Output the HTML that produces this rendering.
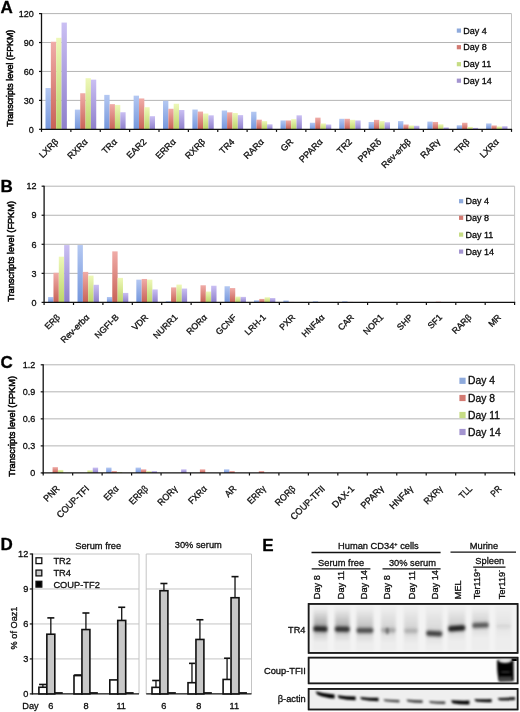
<!DOCTYPE html>
<html><head><meta charset="utf-8"><title>Figure</title>
<style>html,body{margin:0;padding:0;background:#fff;}svg text{font-family:"Liberation Sans",sans-serif;stroke:#000;stroke-width:0.3px;stroke-linejoin:round;}svg{will-change:transform;filter:blur(0.35px);}body{width:520px;height:712px;overflow:hidden;position:relative;}</style>
</head><body>
<svg width="520" height="712" viewBox="0 0 520 712" style="position:absolute;left:0;top:0">
<defs>
<linearGradient id="gb" x1="0" y1="0" x2="0" y2="1"><stop offset="0" stop-color="#b4c8f2"/><stop offset="1" stop-color="#7496dc"/></linearGradient>
<linearGradient id="gr" x1="0" y1="0" x2="0" y2="1"><stop offset="0" stop-color="#f0aca8"/><stop offset="1" stop-color="#c86256"/></linearGradient>
<linearGradient id="gy" x1="0" y1="0" x2="0" y2="1"><stop offset="0" stop-color="#eef8b8"/><stop offset="1" stop-color="#bcd46a"/></linearGradient>
<linearGradient id="gp" x1="0" y1="0" x2="0" y2="1"><stop offset="0" stop-color="#cabff3"/><stop offset="1" stop-color="#8e7fcb"/></linearGradient>
<filter id="bl1" x="-50%" y="-50%" width="200%" height="200%"><feGaussianBlur stdDeviation="1"/></filter>
<filter id="bl2" x="-50%" y="-50%" width="200%" height="200%"><feGaussianBlur stdDeviation="1.6"/></filter>
<filter id="bl3" x="-50%" y="-50%" width="200%" height="200%"><feGaussianBlur stdDeviation="2.5"/></filter>
</defs>
<rect width="520" height="712" fill="#fff"/>
<line x1="41.50" y1="100.38" x2="511.50" y2="100.38" stroke="#b4b4b4" stroke-width="1" />
<line x1="41.50" y1="71.45" x2="511.50" y2="71.45" stroke="#b4b4b4" stroke-width="1" />
<line x1="41.50" y1="42.53" x2="511.50" y2="42.53" stroke="#b4b4b4" stroke-width="1" />
<line x1="41.50" y1="13.60" x2="511.50" y2="13.60" stroke="#b4b4b4" stroke-width="1" />
<line x1="511.50" y1="13.60" x2="511.50" y2="129.30" stroke="#c4c4c4" stroke-width="1" />
<rect x="45.51" y="88.03" width="5.34" height="41.27" fill="url(#gb)" />
<rect x="50.85" y="41.75" width="5.34" height="87.55" fill="url(#gr)" />
<rect x="56.19" y="37.80" width="5.34" height="91.50" fill="url(#gy)" />
<rect x="61.53" y="22.57" width="5.34" height="106.73" fill="url(#gp)" />
<rect x="74.88" y="109.63" width="5.34" height="19.67" fill="url(#gb)" />
<rect x="80.22" y="93.24" width="5.34" height="36.06" fill="url(#gr)" />
<rect x="85.56" y="78.20" width="5.34" height="51.10" fill="url(#gy)" />
<rect x="90.90" y="79.65" width="5.34" height="49.65" fill="url(#gp)" />
<rect x="104.26" y="94.88" width="5.34" height="34.42" fill="url(#gb)" />
<rect x="109.60" y="104.14" width="5.34" height="25.16" fill="url(#gr)" />
<rect x="114.94" y="104.91" width="5.34" height="24.39" fill="url(#gy)" />
<rect x="120.28" y="112.23" width="5.34" height="17.07" fill="url(#gp)" />
<rect x="133.63" y="95.65" width="5.34" height="33.65" fill="url(#gb)" />
<rect x="138.97" y="98.45" width="5.34" height="30.85" fill="url(#gr)" />
<rect x="144.31" y="107.22" width="5.34" height="22.08" fill="url(#gy)" />
<rect x="149.65" y="116.19" width="5.34" height="13.11" fill="url(#gp)" />
<rect x="163.01" y="100.76" width="5.34" height="28.54" fill="url(#gb)" />
<rect x="168.35" y="108.76" width="5.34" height="20.54" fill="url(#gr)" />
<rect x="173.69" y="103.75" width="5.34" height="25.55" fill="url(#gy)" />
<rect x="179.03" y="110.02" width="5.34" height="19.28" fill="url(#gp)" />
<rect x="192.38" y="109.53" width="5.34" height="19.77" fill="url(#gb)" />
<rect x="197.72" y="111.56" width="5.34" height="17.74" fill="url(#gr)" />
<rect x="203.06" y="113.49" width="5.34" height="15.81" fill="url(#gy)" />
<rect x="208.40" y="115.32" width="5.34" height="13.98" fill="url(#gp)" />
<rect x="221.76" y="110.50" width="5.34" height="18.80" fill="url(#gb)" />
<rect x="227.10" y="112.33" width="5.34" height="16.97" fill="url(#gr)" />
<rect x="232.44" y="113.01" width="5.34" height="16.29" fill="url(#gy)" />
<rect x="237.78" y="115.13" width="5.34" height="14.17" fill="url(#gp)" />
<rect x="251.13" y="111.75" width="5.34" height="17.55" fill="url(#gb)" />
<rect x="256.47" y="119.66" width="5.34" height="9.64" fill="url(#gr)" />
<rect x="261.81" y="121.10" width="5.34" height="8.20" fill="url(#gy)" />
<rect x="267.15" y="124.29" width="5.34" height="5.01" fill="url(#gp)" />
<rect x="280.51" y="120.43" width="5.34" height="8.87" fill="url(#gb)" />
<rect x="285.85" y="120.43" width="5.34" height="8.87" fill="url(#gr)" />
<rect x="291.19" y="119.18" width="5.34" height="10.12" fill="url(#gy)" />
<rect x="296.53" y="115.32" width="5.34" height="13.98" fill="url(#gp)" />
<rect x="309.88" y="122.74" width="5.34" height="6.56" fill="url(#gb)" />
<rect x="315.22" y="117.63" width="5.34" height="11.67" fill="url(#gr)" />
<rect x="320.56" y="123.42" width="5.34" height="5.88" fill="url(#gy)" />
<rect x="325.90" y="124.48" width="5.34" height="4.82" fill="url(#gp)" />
<rect x="339.26" y="118.79" width="5.34" height="10.51" fill="url(#gb)" />
<rect x="344.60" y="118.79" width="5.34" height="10.51" fill="url(#gr)" />
<rect x="349.94" y="119.85" width="5.34" height="9.45" fill="url(#gy)" />
<rect x="355.28" y="120.43" width="5.34" height="8.87" fill="url(#gp)" />
<rect x="368.63" y="121.97" width="5.34" height="7.33" fill="url(#gb)" />
<rect x="373.97" y="119.85" width="5.34" height="9.45" fill="url(#gr)" />
<rect x="379.31" y="121.10" width="5.34" height="8.20" fill="url(#gy)" />
<rect x="384.65" y="122.26" width="5.34" height="7.04" fill="url(#gp)" />
<rect x="398.01" y="121.10" width="5.34" height="8.20" fill="url(#gb)" />
<rect x="403.35" y="124.48" width="5.34" height="4.82" fill="url(#gr)" />
<rect x="408.69" y="125.44" width="5.34" height="3.86" fill="url(#gy)" />
<rect x="414.03" y="125.73" width="5.34" height="3.57" fill="url(#gp)" />
<rect x="427.38" y="121.59" width="5.34" height="7.71" fill="url(#gb)" />
<rect x="432.72" y="121.97" width="5.34" height="7.33" fill="url(#gr)" />
<rect x="438.06" y="124.29" width="5.34" height="5.01" fill="url(#gy)" />
<rect x="443.40" y="127.37" width="5.34" height="1.93" fill="url(#gp)" />
<rect x="456.76" y="125.25" width="5.34" height="4.05" fill="url(#gb)" />
<rect x="462.10" y="122.74" width="5.34" height="6.56" fill="url(#gr)" />
<rect x="467.44" y="126.89" width="5.34" height="2.41" fill="url(#gy)" />
<rect x="472.78" y="127.85" width="5.34" height="1.45" fill="url(#gp)" />
<rect x="486.13" y="123.42" width="5.34" height="5.88" fill="url(#gb)" />
<rect x="491.47" y="125.44" width="5.34" height="3.86" fill="url(#gr)" />
<rect x="496.81" y="126.41" width="5.34" height="2.89" fill="url(#gy)" />
<rect x="502.15" y="126.21" width="5.34" height="3.09" fill="url(#gp)" />
<line x1="41.50" y1="13.10" x2="41.50" y2="129.90" stroke="#111" stroke-width="1.3" />
<line x1="40.90" y1="129.30" x2="512.10" y2="129.30" stroke="#111" stroke-width="1.3" />
<line x1="39.00" y1="129.30" x2="41.50" y2="129.30" stroke="#111" stroke-width="1.2" />
<text x="33.70" y="132.50" font-size="9" text-anchor="end" font-weight="normal" fill="#222" >0</text>
<line x1="39.00" y1="100.38" x2="41.50" y2="100.38" stroke="#111" stroke-width="1.2" />
<text x="33.70" y="103.58" font-size="9" text-anchor="end" font-weight="normal" fill="#222" >30</text>
<line x1="39.00" y1="71.45" x2="41.50" y2="71.45" stroke="#111" stroke-width="1.2" />
<text x="33.70" y="74.65" font-size="9" text-anchor="end" font-weight="normal" fill="#222" >60</text>
<line x1="39.00" y1="42.53" x2="41.50" y2="42.53" stroke="#111" stroke-width="1.2" />
<text x="33.70" y="45.73" font-size="9" text-anchor="end" font-weight="normal" fill="#222" >90</text>
<line x1="39.00" y1="13.60" x2="41.50" y2="13.60" stroke="#111" stroke-width="1.2" />
<text x="33.70" y="16.80" font-size="9" text-anchor="end" font-weight="normal" fill="#222" >120</text>
<line x1="41.50" y1="129.30" x2="41.50" y2="131.90" stroke="#111" stroke-width="1.2" />
<line x1="70.88" y1="129.30" x2="70.88" y2="131.90" stroke="#111" stroke-width="1.2" />
<line x1="100.25" y1="129.30" x2="100.25" y2="131.90" stroke="#111" stroke-width="1.2" />
<line x1="129.62" y1="129.30" x2="129.62" y2="131.90" stroke="#111" stroke-width="1.2" />
<line x1="159.00" y1="129.30" x2="159.00" y2="131.90" stroke="#111" stroke-width="1.2" />
<line x1="188.38" y1="129.30" x2="188.38" y2="131.90" stroke="#111" stroke-width="1.2" />
<line x1="217.75" y1="129.30" x2="217.75" y2="131.90" stroke="#111" stroke-width="1.2" />
<line x1="247.12" y1="129.30" x2="247.12" y2="131.90" stroke="#111" stroke-width="1.2" />
<line x1="276.50" y1="129.30" x2="276.50" y2="131.90" stroke="#111" stroke-width="1.2" />
<line x1="305.88" y1="129.30" x2="305.88" y2="131.90" stroke="#111" stroke-width="1.2" />
<line x1="335.25" y1="129.30" x2="335.25" y2="131.90" stroke="#111" stroke-width="1.2" />
<line x1="364.62" y1="129.30" x2="364.62" y2="131.90" stroke="#111" stroke-width="1.2" />
<line x1="394.00" y1="129.30" x2="394.00" y2="131.90" stroke="#111" stroke-width="1.2" />
<line x1="423.38" y1="129.30" x2="423.38" y2="131.90" stroke="#111" stroke-width="1.2" />
<line x1="452.75" y1="129.30" x2="452.75" y2="131.90" stroke="#111" stroke-width="1.2" />
<line x1="482.12" y1="129.30" x2="482.12" y2="131.90" stroke="#111" stroke-width="1.2" />
<line x1="511.50" y1="129.30" x2="511.50" y2="131.90" stroke="#111" stroke-width="1.2" />
<text x="58.89" y="142.40" font-size="9" text-anchor="end" font-weight="normal" fill="#1a1a1a" transform="rotate(-45 58.89 142.40)">LXRβ</text>
<text x="88.26" y="142.40" font-size="9" text-anchor="end" font-weight="normal" fill="#1a1a1a" transform="rotate(-45 88.26 142.40)">RXRα</text>
<text x="117.64" y="142.40" font-size="9" text-anchor="end" font-weight="normal" fill="#1a1a1a" transform="rotate(-45 117.64 142.40)">TRα</text>
<text x="147.01" y="142.40" font-size="9" text-anchor="end" font-weight="normal" fill="#1a1a1a" transform="rotate(-45 147.01 142.40)">EAR2</text>
<text x="176.39" y="142.40" font-size="9" text-anchor="end" font-weight="normal" fill="#1a1a1a" transform="rotate(-45 176.39 142.40)">ERRα</text>
<text x="205.76" y="142.40" font-size="9" text-anchor="end" font-weight="normal" fill="#1a1a1a" transform="rotate(-45 205.76 142.40)">RXRβ</text>
<text x="235.14" y="142.40" font-size="9" text-anchor="end" font-weight="normal" fill="#1a1a1a" transform="rotate(-45 235.14 142.40)">TR4</text>
<text x="264.51" y="142.40" font-size="9" text-anchor="end" font-weight="normal" fill="#1a1a1a" transform="rotate(-45 264.51 142.40)">RARα</text>
<text x="293.89" y="142.40" font-size="9" text-anchor="end" font-weight="normal" fill="#1a1a1a" transform="rotate(-45 293.89 142.40)">GR</text>
<text x="323.26" y="142.40" font-size="9" text-anchor="end" font-weight="normal" fill="#1a1a1a" transform="rotate(-45 323.26 142.40)">PPARα</text>
<text x="352.64" y="142.40" font-size="9" text-anchor="end" font-weight="normal" fill="#1a1a1a" transform="rotate(-45 352.64 142.40)">TR2</text>
<text x="382.01" y="142.40" font-size="9" text-anchor="end" font-weight="normal" fill="#1a1a1a" transform="rotate(-45 382.01 142.40)">PPARδ</text>
<text x="411.39" y="142.40" font-size="9" text-anchor="end" font-weight="normal" fill="#1a1a1a" transform="rotate(-45 411.39 142.40)">Rev-erbβ</text>
<text x="440.76" y="142.40" font-size="9" text-anchor="end" font-weight="normal" fill="#1a1a1a" transform="rotate(-45 440.76 142.40)">RARγ</text>
<text x="470.14" y="142.40" font-size="9" text-anchor="end" font-weight="normal" fill="#1a1a1a" transform="rotate(-45 470.14 142.40)">TRβ</text>
<text x="499.51" y="142.40" font-size="9" text-anchor="end" font-weight="normal" fill="#1a1a1a" transform="rotate(-45 499.51 142.40)">LXRα</text>
<rect x="456.80" y="28.50" width="4.20" height="4.20" fill="#8eaadc" />
<text x="463.30" y="33.82" font-size="9" text-anchor="start" font-weight="normal" fill="#111" >Day 4</text>
<rect x="456.80" y="45.10" width="4.20" height="4.20" fill="#d37a72" />
<text x="463.30" y="50.42" font-size="9" text-anchor="start" font-weight="normal" fill="#111" >Day 8</text>
<rect x="456.80" y="62.10" width="4.20" height="4.20" fill="#c6dc84" />
<text x="463.30" y="67.42" font-size="9" text-anchor="start" font-weight="normal" fill="#111" >Day 11</text>
<rect x="456.80" y="78.60" width="4.20" height="4.20" fill="#a394d0" />
<text x="463.30" y="83.92" font-size="9" text-anchor="start" font-weight="normal" fill="#111" >Day 14</text>
<text x="12.60" y="78.20" font-size="8.85" text-anchor="middle" fill="#000" style="stroke-width:0.5px" transform="rotate(-90 12.60 78.20)">Transcripts level (FPKM)</text>
<text x="0.50" y="12.90" font-size="17" text-anchor="start" font-weight="bold" fill="#000" >A</text>
<line x1="44.10" y1="273.35" x2="514.60" y2="273.35" stroke="#b4b4b4" stroke-width="1" />
<line x1="44.10" y1="244.30" x2="514.60" y2="244.30" stroke="#b4b4b4" stroke-width="1" />
<line x1="44.10" y1="215.25" x2="514.60" y2="215.25" stroke="#b4b4b4" stroke-width="1" />
<line x1="44.10" y1="186.20" x2="514.60" y2="186.20" stroke="#b4b4b4" stroke-width="1" />
<line x1="514.60" y1="186.20" x2="514.60" y2="302.40" stroke="#c4c4c4" stroke-width="1" />
<rect x="48.11" y="296.98" width="5.35" height="5.42" fill="url(#gb)" />
<rect x="53.46" y="272.77" width="5.35" height="29.63" fill="url(#gr)" />
<rect x="58.80" y="256.69" width="5.35" height="45.71" fill="url(#gy)" />
<rect x="64.15" y="245.07" width="5.35" height="57.33" fill="url(#gp)" />
<rect x="77.52" y="245.07" width="5.35" height="57.33" fill="url(#gb)" />
<rect x="82.86" y="271.90" width="5.35" height="30.50" fill="url(#gr)" />
<rect x="88.21" y="275.58" width="5.35" height="26.82" fill="url(#gy)" />
<rect x="93.56" y="284.78" width="5.35" height="17.62" fill="url(#gp)" />
<rect x="106.92" y="296.98" width="5.35" height="5.42" fill="url(#gb)" />
<rect x="112.27" y="251.37" width="5.35" height="51.03" fill="url(#gr)" />
<rect x="117.62" y="277.90" width="5.35" height="24.50" fill="url(#gy)" />
<rect x="122.96" y="292.91" width="5.35" height="9.49" fill="url(#gp)" />
<rect x="136.33" y="279.64" width="5.35" height="22.76" fill="url(#gb)" />
<rect x="141.68" y="278.97" width="5.35" height="23.43" fill="url(#gr)" />
<rect x="147.02" y="279.64" width="5.35" height="22.76" fill="url(#gy)" />
<rect x="152.37" y="289.42" width="5.35" height="12.98" fill="url(#gp)" />
<rect x="165.73" y="301.14" width="5.35" height="1.26" fill="url(#gb)" />
<rect x="171.08" y="287.39" width="5.35" height="15.01" fill="url(#gr)" />
<rect x="176.43" y="284.58" width="5.35" height="17.82" fill="url(#gy)" />
<rect x="181.77" y="288.55" width="5.35" height="13.85" fill="url(#gp)" />
<rect x="195.14" y="301.92" width="5.35" height="0.48" fill="url(#gb)" />
<rect x="200.49" y="285.26" width="5.35" height="17.14" fill="url(#gr)" />
<rect x="205.83" y="291.55" width="5.35" height="10.85" fill="url(#gy)" />
<rect x="211.18" y="285.74" width="5.35" height="16.66" fill="url(#gp)" />
<rect x="224.55" y="286.23" width="5.35" height="16.17" fill="url(#gb)" />
<rect x="229.89" y="288.07" width="5.35" height="14.33" fill="url(#gr)" />
<rect x="235.24" y="296.59" width="5.35" height="5.81" fill="url(#gy)" />
<rect x="240.59" y="296.88" width="5.35" height="5.52" fill="url(#gp)" />
<rect x="253.95" y="300.27" width="5.35" height="2.13" fill="url(#gb)" />
<rect x="259.30" y="298.91" width="5.35" height="3.49" fill="url(#gr)" />
<rect x="264.65" y="297.27" width="5.35" height="5.13" fill="url(#gy)" />
<rect x="269.99" y="298.04" width="5.35" height="4.36" fill="url(#gp)" />
<rect x="283.36" y="300.46" width="5.35" height="1.94" fill="url(#gb)" />
<rect x="288.71" y="301.92" width="5.35" height="0.48" fill="url(#gr)" />
<rect x="294.05" y="302.11" width="5.35" height="0.29" fill="url(#gy)" />
<rect x="299.40" y="302.21" width="5.35" height="0.19" fill="url(#gp)" />
<rect x="312.77" y="301.24" width="5.35" height="1.16" fill="url(#gb)" />
<rect x="318.11" y="302.11" width="5.35" height="0.29" fill="url(#gr)" />
<rect x="323.46" y="302.21" width="5.35" height="0.19" fill="url(#gy)" />
<rect x="328.81" y="302.21" width="5.35" height="0.19" fill="url(#gp)" />
<rect x="342.17" y="301.24" width="5.35" height="1.16" fill="url(#gb)" />
<rect x="347.52" y="301.92" width="5.35" height="0.48" fill="url(#gr)" />
<rect x="352.87" y="302.21" width="5.35" height="0.19" fill="url(#gy)" />
<rect x="358.21" y="302.21" width="5.35" height="0.19" fill="url(#gp)" />
<rect x="371.58" y="301.92" width="5.35" height="0.48" fill="url(#gb)" />
<rect x="376.93" y="302.21" width="5.35" height="0.19" fill="url(#gr)" />
<rect x="382.27" y="302.30" width="5.35" height="0.10" fill="url(#gy)" />
<rect x="387.62" y="302.30" width="5.35" height="0.10" fill="url(#gp)" />
<rect x="400.98" y="302.21" width="5.35" height="0.19" fill="url(#gb)" />
<rect x="406.33" y="302.30" width="5.35" height="0.10" fill="url(#gr)" />
<rect x="411.68" y="302.30" width="5.35" height="0.10" fill="url(#gy)" />
<rect x="417.02" y="302.30" width="5.35" height="0.10" fill="url(#gp)" />
<rect x="430.39" y="302.21" width="5.35" height="0.19" fill="url(#gb)" />
<rect x="435.74" y="301.63" width="5.35" height="0.77" fill="url(#gr)" />
<rect x="441.08" y="302.21" width="5.35" height="0.19" fill="url(#gy)" />
<rect x="446.43" y="302.30" width="5.35" height="0.10" fill="url(#gp)" />
<rect x="459.80" y="302.30" width="5.35" height="0.10" fill="url(#gb)" />
<rect x="465.14" y="302.30" width="5.35" height="0.10" fill="url(#gr)" />
<rect x="470.49" y="302.30" width="5.35" height="0.10" fill="url(#gy)" />
<rect x="475.84" y="302.30" width="5.35" height="0.10" fill="url(#gp)" />
<rect x="489.20" y="302.30" width="5.35" height="0.10" fill="url(#gb)" />
<rect x="494.55" y="302.30" width="5.35" height="0.10" fill="url(#gr)" />
<rect x="499.90" y="302.30" width="5.35" height="0.10" fill="url(#gy)" />
<rect x="505.24" y="302.30" width="5.35" height="0.10" fill="url(#gp)" />
<line x1="44.10" y1="185.70" x2="44.10" y2="303.00" stroke="#111" stroke-width="1.3" />
<line x1="43.50" y1="302.40" x2="515.20" y2="302.40" stroke="#111" stroke-width="1.3" />
<line x1="41.60" y1="302.40" x2="44.10" y2="302.40" stroke="#111" stroke-width="1.2" />
<text x="36.40" y="305.60" font-size="9" text-anchor="end" font-weight="normal" fill="#222" >0</text>
<line x1="41.60" y1="273.35" x2="44.10" y2="273.35" stroke="#111" stroke-width="1.2" />
<text x="36.40" y="276.55" font-size="9" text-anchor="end" font-weight="normal" fill="#222" >3</text>
<line x1="41.60" y1="244.30" x2="44.10" y2="244.30" stroke="#111" stroke-width="1.2" />
<text x="36.40" y="247.50" font-size="9" text-anchor="end" font-weight="normal" fill="#222" >6</text>
<line x1="41.60" y1="215.25" x2="44.10" y2="215.25" stroke="#111" stroke-width="1.2" />
<text x="36.40" y="218.45" font-size="9" text-anchor="end" font-weight="normal" fill="#222" >9</text>
<line x1="41.60" y1="186.20" x2="44.10" y2="186.20" stroke="#111" stroke-width="1.2" />
<text x="36.40" y="189.40" font-size="9" text-anchor="end" font-weight="normal" fill="#222" >12</text>
<line x1="44.10" y1="302.40" x2="44.10" y2="305.00" stroke="#111" stroke-width="1.2" />
<line x1="73.51" y1="302.40" x2="73.51" y2="305.00" stroke="#111" stroke-width="1.2" />
<line x1="102.91" y1="302.40" x2="102.91" y2="305.00" stroke="#111" stroke-width="1.2" />
<line x1="132.32" y1="302.40" x2="132.32" y2="305.00" stroke="#111" stroke-width="1.2" />
<line x1="161.72" y1="302.40" x2="161.72" y2="305.00" stroke="#111" stroke-width="1.2" />
<line x1="191.13" y1="302.40" x2="191.13" y2="305.00" stroke="#111" stroke-width="1.2" />
<line x1="220.54" y1="302.40" x2="220.54" y2="305.00" stroke="#111" stroke-width="1.2" />
<line x1="249.94" y1="302.40" x2="249.94" y2="305.00" stroke="#111" stroke-width="1.2" />
<line x1="279.35" y1="302.40" x2="279.35" y2="305.00" stroke="#111" stroke-width="1.2" />
<line x1="308.76" y1="302.40" x2="308.76" y2="305.00" stroke="#111" stroke-width="1.2" />
<line x1="338.16" y1="302.40" x2="338.16" y2="305.00" stroke="#111" stroke-width="1.2" />
<line x1="367.57" y1="302.40" x2="367.57" y2="305.00" stroke="#111" stroke-width="1.2" />
<line x1="396.98" y1="302.40" x2="396.98" y2="305.00" stroke="#111" stroke-width="1.2" />
<line x1="426.38" y1="302.40" x2="426.38" y2="305.00" stroke="#111" stroke-width="1.2" />
<line x1="455.79" y1="302.40" x2="455.79" y2="305.00" stroke="#111" stroke-width="1.2" />
<line x1="485.19" y1="302.40" x2="485.19" y2="305.00" stroke="#111" stroke-width="1.2" />
<line x1="514.60" y1="302.40" x2="514.60" y2="305.00" stroke="#111" stroke-width="1.2" />
<text x="60.50" y="317.90" font-size="8.8" text-anchor="end" font-weight="normal" fill="#1a1a1a" transform="rotate(-45 60.50 317.90)">ERβ</text>
<text x="89.91" y="317.90" font-size="8.8" text-anchor="end" font-weight="normal" fill="#1a1a1a" transform="rotate(-45 89.91 317.90)">Rev-erbα</text>
<text x="119.32" y="317.90" font-size="8.8" text-anchor="end" font-weight="normal" fill="#1a1a1a" transform="rotate(-45 119.32 317.90)">NGFI-B</text>
<text x="148.72" y="317.90" font-size="8.8" text-anchor="end" font-weight="normal" fill="#1a1a1a" transform="rotate(-45 148.72 317.90)">VDR</text>
<text x="178.13" y="317.90" font-size="8.8" text-anchor="end" font-weight="normal" fill="#1a1a1a" transform="rotate(-45 178.13 317.90)">NURR1</text>
<text x="207.53" y="317.90" font-size="8.8" text-anchor="end" font-weight="normal" fill="#1a1a1a" transform="rotate(-45 207.53 317.90)">RORα</text>
<text x="236.94" y="317.90" font-size="8.8" text-anchor="end" font-weight="normal" fill="#1a1a1a" transform="rotate(-45 236.94 317.90)">GCNF</text>
<text x="266.35" y="317.90" font-size="8.8" text-anchor="end" font-weight="normal" fill="#1a1a1a" transform="rotate(-45 266.35 317.90)">LRH-1</text>
<text x="295.75" y="317.90" font-size="8.8" text-anchor="end" font-weight="normal" fill="#1a1a1a" transform="rotate(-45 295.75 317.90)">PXR</text>
<text x="325.16" y="317.90" font-size="8.8" text-anchor="end" font-weight="normal" fill="#1a1a1a" transform="rotate(-45 325.16 317.90)">HNF4α</text>
<text x="354.57" y="317.90" font-size="8.8" text-anchor="end" font-weight="normal" fill="#1a1a1a" transform="rotate(-45 354.57 317.90)">CAR</text>
<text x="383.97" y="317.90" font-size="8.8" text-anchor="end" font-weight="normal" fill="#1a1a1a" transform="rotate(-45 383.97 317.90)">NOR1</text>
<text x="413.38" y="317.90" font-size="8.8" text-anchor="end" font-weight="normal" fill="#1a1a1a" transform="rotate(-45 413.38 317.90)">SHP</text>
<text x="442.78" y="317.90" font-size="8.8" text-anchor="end" font-weight="normal" fill="#1a1a1a" transform="rotate(-45 442.78 317.90)">SF1</text>
<text x="472.19" y="317.90" font-size="8.8" text-anchor="end" font-weight="normal" fill="#1a1a1a" transform="rotate(-45 472.19 317.90)">RARβ</text>
<text x="501.60" y="317.90" font-size="8.8" text-anchor="end" font-weight="normal" fill="#1a1a1a" transform="rotate(-45 501.60 317.90)">MR</text>
<rect x="459.00" y="199.10" width="4.20" height="4.20" fill="#8eaadc" />
<text x="465.50" y="204.42" font-size="9" text-anchor="start" font-weight="normal" fill="#111" >Day 4</text>
<rect x="459.00" y="215.70" width="4.20" height="4.20" fill="#d37a72" />
<text x="465.50" y="221.02" font-size="9" text-anchor="start" font-weight="normal" fill="#111" >Day 8</text>
<rect x="459.00" y="232.50" width="4.20" height="4.20" fill="#c6dc84" />
<text x="465.50" y="237.82" font-size="9" text-anchor="start" font-weight="normal" fill="#111" >Day 11</text>
<rect x="459.00" y="249.50" width="4.20" height="4.20" fill="#a394d0" />
<text x="465.50" y="254.82" font-size="9" text-anchor="start" font-weight="normal" fill="#111" >Day 14</text>
<text x="14.00" y="251.40" font-size="9.2" text-anchor="middle" fill="#000" style="stroke-width:0.5px" transform="rotate(-90 14.00 251.40)">Transcripts level (FPKM)</text>
<text x="0.40" y="192.20" font-size="17" text-anchor="start" font-weight="bold" fill="#000" >B</text>
<line x1="43.20" y1="445.88" x2="514.60" y2="445.88" stroke="#b4b4b4" stroke-width="1" />
<line x1="43.20" y1="418.85" x2="514.60" y2="418.85" stroke="#b4b4b4" stroke-width="1" />
<line x1="43.20" y1="391.82" x2="514.60" y2="391.82" stroke="#b4b4b4" stroke-width="1" />
<line x1="43.20" y1="364.80" x2="514.60" y2="364.80" stroke="#b4b4b4" stroke-width="1" />
<line x1="514.60" y1="364.80" x2="514.60" y2="472.90" stroke="#c4c4c4" stroke-width="1" />
<rect x="52.57" y="467.13" width="5.36" height="5.77" fill="url(#gr)" />
<rect x="57.93" y="469.93" width="5.36" height="2.97" fill="url(#gy)" />
<rect x="87.39" y="470.20" width="5.36" height="2.70" fill="url(#gy)" />
<rect x="92.75" y="467.59" width="5.36" height="5.31" fill="url(#gp)" />
<rect x="106.14" y="467.59" width="5.36" height="5.31" fill="url(#gb)" />
<rect x="111.50" y="471.10" width="5.36" height="1.80" fill="url(#gr)" />
<rect x="116.86" y="472.00" width="5.36" height="0.90" fill="url(#gy)" />
<rect x="135.61" y="467.59" width="5.36" height="5.31" fill="url(#gb)" />
<rect x="140.96" y="469.30" width="5.36" height="3.60" fill="url(#gr)" />
<rect x="146.32" y="471.10" width="5.36" height="1.80" fill="url(#gy)" />
<rect x="151.68" y="471.10" width="5.36" height="1.80" fill="url(#gp)" />
<rect x="181.14" y="469.30" width="5.36" height="3.60" fill="url(#gp)" />
<rect x="199.89" y="469.30" width="5.36" height="3.60" fill="url(#gr)" />
<rect x="223.99" y="469.30" width="5.36" height="3.60" fill="url(#gb)" />
<rect x="229.35" y="471.10" width="5.36" height="1.80" fill="url(#gr)" />
<rect x="258.81" y="471.10" width="5.36" height="1.80" fill="url(#gr)" />
<line x1="43.20" y1="364.30" x2="43.20" y2="473.50" stroke="#111" stroke-width="1.3" />
<line x1="42.60" y1="472.90" x2="515.20" y2="472.90" stroke="#111" stroke-width="1.3" />
<line x1="40.70" y1="472.90" x2="43.20" y2="472.90" stroke="#111" stroke-width="1.2" />
<text x="35.20" y="476.10" font-size="9" text-anchor="end" font-weight="normal" fill="#222" >0</text>
<line x1="40.70" y1="445.88" x2="43.20" y2="445.88" stroke="#111" stroke-width="1.2" />
<text x="35.20" y="449.07" font-size="9" text-anchor="end" font-weight="normal" fill="#222" >0.3</text>
<line x1="40.70" y1="418.85" x2="43.20" y2="418.85" stroke="#111" stroke-width="1.2" />
<text x="35.20" y="422.05" font-size="9" text-anchor="end" font-weight="normal" fill="#222" >0.6</text>
<line x1="40.70" y1="391.82" x2="43.20" y2="391.82" stroke="#111" stroke-width="1.2" />
<text x="35.20" y="395.02" font-size="9" text-anchor="end" font-weight="normal" fill="#222" >0.9</text>
<line x1="40.70" y1="364.80" x2="43.20" y2="364.80" stroke="#111" stroke-width="1.2" />
<text x="35.20" y="368.00" font-size="9" text-anchor="end" font-weight="normal" fill="#222" >1.2</text>
<line x1="43.20" y1="472.90" x2="43.20" y2="475.50" stroke="#111" stroke-width="1.2" />
<line x1="72.66" y1="472.90" x2="72.66" y2="475.50" stroke="#111" stroke-width="1.2" />
<line x1="102.12" y1="472.90" x2="102.12" y2="475.50" stroke="#111" stroke-width="1.2" />
<line x1="131.59" y1="472.90" x2="131.59" y2="475.50" stroke="#111" stroke-width="1.2" />
<line x1="161.05" y1="472.90" x2="161.05" y2="475.50" stroke="#111" stroke-width="1.2" />
<line x1="190.51" y1="472.90" x2="190.51" y2="475.50" stroke="#111" stroke-width="1.2" />
<line x1="219.98" y1="472.90" x2="219.98" y2="475.50" stroke="#111" stroke-width="1.2" />
<line x1="249.44" y1="472.90" x2="249.44" y2="475.50" stroke="#111" stroke-width="1.2" />
<line x1="278.90" y1="472.90" x2="278.90" y2="475.50" stroke="#111" stroke-width="1.2" />
<line x1="308.36" y1="472.90" x2="308.36" y2="475.50" stroke="#111" stroke-width="1.2" />
<line x1="337.82" y1="472.90" x2="337.82" y2="475.50" stroke="#111" stroke-width="1.2" />
<line x1="367.29" y1="472.90" x2="367.29" y2="475.50" stroke="#111" stroke-width="1.2" />
<line x1="396.75" y1="472.90" x2="396.75" y2="475.50" stroke="#111" stroke-width="1.2" />
<line x1="426.21" y1="472.90" x2="426.21" y2="475.50" stroke="#111" stroke-width="1.2" />
<line x1="455.68" y1="472.90" x2="455.68" y2="475.50" stroke="#111" stroke-width="1.2" />
<line x1="485.14" y1="472.90" x2="485.14" y2="475.50" stroke="#111" stroke-width="1.2" />
<line x1="514.60" y1="472.90" x2="514.60" y2="475.50" stroke="#111" stroke-width="1.2" />
<text x="60.23" y="489.40" font-size="9.4" text-anchor="end" font-weight="normal" fill="#1a1a1a" transform="rotate(-45 60.23 489.40)" textLength="18.20" lengthAdjust="spacingAndGlyphs">PNR</text>
<text x="89.69" y="489.40" font-size="9.4" text-anchor="end" font-weight="normal" fill="#1a1a1a" transform="rotate(-45 89.69 489.40)" textLength="41.16" lengthAdjust="spacingAndGlyphs">COUP-TFI</text>
<text x="119.16" y="489.40" font-size="9.4" text-anchor="end" font-weight="normal" fill="#1a1a1a" transform="rotate(-45 119.16 489.40)" textLength="16.60" lengthAdjust="spacingAndGlyphs">ERα</text>
<text x="148.62" y="489.40" font-size="9.4" text-anchor="end" font-weight="normal" fill="#1a1a1a" transform="rotate(-45 148.62 489.40)" textLength="22.40" lengthAdjust="spacingAndGlyphs">ERRβ</text>
<text x="178.08" y="489.40" font-size="9.4" text-anchor="end" font-weight="normal" fill="#1a1a1a" transform="rotate(-45 178.08 489.40)" textLength="23.67" lengthAdjust="spacingAndGlyphs">RORγ</text>
<text x="207.54" y="489.40" font-size="9.4" text-anchor="end" font-weight="normal" fill="#1a1a1a" transform="rotate(-45 207.54 489.40)" textLength="21.83" lengthAdjust="spacingAndGlyphs">FXRα</text>
<text x="237.01" y="489.40" font-size="9.4" text-anchor="end" font-weight="normal" fill="#1a1a1a" transform="rotate(-45 237.01 489.40)" textLength="11.97" lengthAdjust="spacingAndGlyphs">AR</text>
<text x="266.47" y="489.40" font-size="9.4" text-anchor="end" font-weight="normal" fill="#1a1a1a" transform="rotate(-45 266.47 489.40)" textLength="21.81" lengthAdjust="spacingAndGlyphs">ERRγ</text>
<text x="295.93" y="489.40" font-size="9.4" text-anchor="end" font-weight="normal" fill="#1a1a1a" transform="rotate(-45 295.93 489.40)" textLength="24.25" lengthAdjust="spacingAndGlyphs">RORβ</text>
<text x="325.39" y="489.40" font-size="9.4" text-anchor="end" font-weight="normal" fill="#1a1a1a" transform="rotate(-45 325.39 489.40)" textLength="43.85" lengthAdjust="spacingAndGlyphs">COUP-TFII</text>
<text x="354.86" y="489.40" font-size="9.4" text-anchor="end" font-weight="normal" fill="#1a1a1a" transform="rotate(-45 354.86 489.40)" textLength="26.95" lengthAdjust="spacingAndGlyphs">DAX-1</text>
<text x="384.32" y="489.40" font-size="9.4" text-anchor="end" font-weight="normal" fill="#1a1a1a" transform="rotate(-45 384.32 489.40)" textLength="28.02" lengthAdjust="spacingAndGlyphs">PPARγ</text>
<text x="413.78" y="489.40" font-size="9.4" text-anchor="end" font-weight="normal" fill="#1a1a1a" transform="rotate(-45 413.78 489.40)" textLength="28.86" lengthAdjust="spacingAndGlyphs">HNF4γ</text>
<text x="443.24" y="489.40" font-size="9.4" text-anchor="end" font-weight="normal" fill="#1a1a1a" transform="rotate(-45 443.24 489.40)" textLength="22.14" lengthAdjust="spacingAndGlyphs">RXRγ</text>
<text x="472.71" y="489.40" font-size="9.4" text-anchor="end" font-weight="normal" fill="#1a1a1a" transform="rotate(-45 472.71 489.40)" textLength="14.16" lengthAdjust="spacingAndGlyphs">TLL</text>
<text x="502.17" y="489.40" font-size="9.4" text-anchor="end" font-weight="normal" fill="#1a1a1a" transform="rotate(-45 502.17 489.40)" textLength="11.31" lengthAdjust="spacingAndGlyphs">PR</text>
<rect x="459.40" y="377.70" width="6.20" height="6.20" fill="#8eaadc" />
<text x="468.00" y="384.49" font-size="10.3" text-anchor="start" font-weight="normal" fill="#111" >Day 4</text>
<rect x="459.40" y="394.90" width="6.20" height="6.20" fill="#d37a72" />
<text x="468.00" y="401.69" font-size="10.3" text-anchor="start" font-weight="normal" fill="#111" >Day 8</text>
<rect x="459.40" y="411.90" width="6.20" height="6.20" fill="#c6dc84" />
<text x="468.00" y="418.69" font-size="10.3" text-anchor="start" font-weight="normal" fill="#111" >Day 11</text>
<rect x="459.40" y="428.90" width="6.20" height="6.20" fill="#a394d0" />
<text x="468.00" y="435.69" font-size="10.3" text-anchor="start" font-weight="normal" fill="#111" >Day 14</text>
<text x="15.50" y="426.40" font-size="9.2" text-anchor="middle" fill="#000" style="stroke-width:0.5px" transform="rotate(-90 15.50 426.40)">Transcripts level (FPKM)</text>
<text x="0.40" y="367.50" font-size="17" text-anchor="start" font-weight="bold" fill="#000" >C</text>
<text x="0.60" y="550.40" font-size="17" text-anchor="start" font-weight="bold" fill="#000" >D</text>
<line x1="32.40" y1="658.92" x2="139.00" y2="658.92" stroke="#c4c4c4" stroke-width="1" />
<line x1="32.40" y1="623.95" x2="139.00" y2="623.95" stroke="#c4c4c4" stroke-width="1" />
<line x1="32.40" y1="588.98" x2="139.00" y2="588.98" stroke="#c4c4c4" stroke-width="1" />
<line x1="32.40" y1="554.00" x2="139.00" y2="554.00" stroke="#c4c4c4" stroke-width="1" />
<line x1="139.00" y1="554.00" x2="139.00" y2="693.90" stroke="#c4c4c4" stroke-width="1" />
<line x1="32.40" y1="693.90" x2="139.00" y2="693.90" stroke="#111" stroke-width="1.4" />
<line x1="146.20" y1="658.92" x2="251.50" y2="658.92" stroke="#c4c4c4" stroke-width="1" />
<line x1="146.20" y1="623.95" x2="251.50" y2="623.95" stroke="#c4c4c4" stroke-width="1" />
<line x1="146.20" y1="588.98" x2="251.50" y2="588.98" stroke="#c4c4c4" stroke-width="1" />
<line x1="146.20" y1="554.00" x2="251.50" y2="554.00" stroke="#c4c4c4" stroke-width="1" />
<line x1="251.50" y1="554.00" x2="251.50" y2="693.90" stroke="#c4c4c4" stroke-width="1" />
<line x1="146.20" y1="554.00" x2="146.20" y2="693.90" stroke="#c4c4c4" stroke-width="1" />
<line x1="146.20" y1="693.90" x2="251.50" y2="693.90" stroke="#111" stroke-width="1.4" />
<line x1="32.40" y1="553.50" x2="32.40" y2="694.50" stroke="#111" stroke-width="1.4" />
<line x1="29.80" y1="693.90" x2="32.40" y2="693.90" stroke="#111" stroke-width="1.2" />
<text x="28.30" y="697.20" font-size="9.2" text-anchor="end" font-weight="normal" fill="#1a1a1a" >0</text>
<line x1="29.80" y1="658.92" x2="32.40" y2="658.92" stroke="#111" stroke-width="1.2" />
<text x="28.30" y="662.22" font-size="9.2" text-anchor="end" font-weight="normal" fill="#1a1a1a" >3</text>
<line x1="29.80" y1="623.95" x2="32.40" y2="623.95" stroke="#111" stroke-width="1.2" />
<text x="28.30" y="627.25" font-size="9.2" text-anchor="end" font-weight="normal" fill="#1a1a1a" >6</text>
<line x1="29.80" y1="588.98" x2="32.40" y2="588.98" stroke="#111" stroke-width="1.2" />
<text x="28.30" y="592.27" font-size="9.2" text-anchor="end" font-weight="normal" fill="#1a1a1a" >9</text>
<line x1="29.80" y1="554.00" x2="32.40" y2="554.00" stroke="#111" stroke-width="1.2" />
<text x="28.30" y="557.30" font-size="9.2" text-anchor="end" font-weight="normal" fill="#1a1a1a" >12</text>
<line x1="42.88" y1="687.25" x2="42.88" y2="684.46" stroke="#111" stroke-width="1.3" />
<line x1="39.08" y1="684.46" x2="46.67" y2="684.46" stroke="#111" stroke-width="1.6" />
<rect x="38.90" y="687.25" width="7.95" height="6.65" fill="#fff" stroke="#111" stroke-width="1.6"/>
<line x1="50.83" y1="634.21" x2="50.83" y2="617.89" stroke="#111" stroke-width="1.3" />
<line x1="47.33" y1="617.89" x2="54.33" y2="617.89" stroke="#111" stroke-width="1.6" />
<rect x="46.85" y="634.21" width="7.95" height="59.69" fill="#c8c8c8" stroke="#111" stroke-width="1.6"/>
<rect x="54.80" y="692.10" width="7.95" height="1.80" fill="#111" />
<line x1="77.97" y1="675.60" x2="77.97" y2="675.01" stroke="#111" stroke-width="1.3" />
<line x1="74.17" y1="675.01" x2="81.77" y2="675.01" stroke="#111" stroke-width="1.6" />
<rect x="74.00" y="675.60" width="7.95" height="18.30" fill="#fff" stroke="#111" stroke-width="1.6"/>
<line x1="85.92" y1="629.55" x2="85.92" y2="612.99" stroke="#111" stroke-width="1.3" />
<line x1="82.42" y1="612.99" x2="89.42" y2="612.99" stroke="#111" stroke-width="1.6" />
<rect x="81.95" y="629.55" width="7.95" height="64.35" fill="#c8c8c8" stroke="#111" stroke-width="1.6"/>
<rect x="89.90" y="692.10" width="7.95" height="1.80" fill="#111" />
<rect x="109.80" y="679.91" width="7.95" height="13.99" fill="#fff" stroke="#111" stroke-width="1.6"/>
<line x1="121.72" y1="620.45" x2="121.72" y2="607.28" stroke="#111" stroke-width="1.3" />
<line x1="118.22" y1="607.28" x2="125.22" y2="607.28" stroke="#111" stroke-width="1.6" />
<rect x="117.75" y="620.45" width="7.95" height="73.45" fill="#c8c8c8" stroke="#111" stroke-width="1.6"/>
<rect x="125.70" y="692.10" width="7.95" height="1.80" fill="#111" />
<line x1="155.97" y1="687.37" x2="155.97" y2="680.49" stroke="#111" stroke-width="1.3" />
<line x1="152.17" y1="680.49" x2="159.78" y2="680.49" stroke="#111" stroke-width="1.6" />
<rect x="152.00" y="687.37" width="7.95" height="6.53" fill="#fff" stroke="#111" stroke-width="1.6"/>
<line x1="163.92" y1="590.72" x2="163.92" y2="583.50" stroke="#111" stroke-width="1.3" />
<line x1="160.42" y1="583.50" x2="167.42" y2="583.50" stroke="#111" stroke-width="1.6" />
<rect x="159.95" y="590.72" width="7.95" height="103.18" fill="#c8c8c8" stroke="#111" stroke-width="1.6"/>
<rect x="167.90" y="692.10" width="7.95" height="1.80" fill="#111" />
<line x1="191.97" y1="682.71" x2="191.97" y2="663.36" stroke="#111" stroke-width="1.3" />
<line x1="188.97" y1="663.36" x2="194.97" y2="663.36" stroke="#111" stroke-width="1.6" />
<rect x="188.00" y="682.71" width="7.95" height="11.19" fill="#fff" stroke="#111" stroke-width="1.6"/>
<line x1="199.92" y1="639.46" x2="199.92" y2="619.75" stroke="#111" stroke-width="1.3" />
<line x1="196.42" y1="619.75" x2="203.42" y2="619.75" stroke="#111" stroke-width="1.6" />
<rect x="195.95" y="639.46" width="7.95" height="54.44" fill="#c8c8c8" stroke="#111" stroke-width="1.6"/>
<rect x="203.90" y="692.10" width="7.95" height="1.80" fill="#111" />
<line x1="227.07" y1="679.44" x2="227.07" y2="658.23" stroke="#111" stroke-width="1.3" />
<line x1="224.07" y1="658.23" x2="230.07" y2="658.23" stroke="#111" stroke-width="1.6" />
<rect x="223.10" y="679.44" width="7.95" height="14.46" fill="#fff" stroke="#111" stroke-width="1.6"/>
<line x1="235.02" y1="597.72" x2="235.02" y2="576.62" stroke="#111" stroke-width="1.3" />
<line x1="231.52" y1="576.62" x2="238.52" y2="576.62" stroke="#111" stroke-width="1.6" />
<rect x="231.05" y="597.72" width="7.95" height="96.18" fill="#c8c8c8" stroke="#111" stroke-width="1.6"/>
<rect x="239.00" y="692.10" width="7.95" height="1.80" fill="#111" />
<rect x="36.00" y="557.80" width="5.80" height="5.80" fill="#fff" stroke="#111" stroke-width="1.3"/>
<text x="53.40" y="564.00" font-size="9.3" text-anchor="start" font-weight="normal" fill="#1a1a1a" >TR2</text>
<rect x="36.00" y="570.10" width="5.80" height="5.80" fill="#c8c8c8" stroke="#111" stroke-width="1.3"/>
<text x="53.40" y="576.30" font-size="9.3" text-anchor="start" font-weight="normal" fill="#1a1a1a" >TR4</text>
<rect x="36.00" y="581.30" width="5.80" height="5.80" fill="#000" stroke="#111" stroke-width="1.3"/>
<text x="53.40" y="587.50" font-size="9.3" text-anchor="start" font-weight="normal" fill="#1a1a1a" >COUP-TF2</text>
<text x="98.20" y="548.80" font-size="9.3" text-anchor="middle" font-weight="normal" fill="#1a1a1a" >Serum free</text>
<text x="198.30" y="547.60" font-size="9.3" text-anchor="middle" font-weight="normal" fill="#1a1a1a" >30% serum</text>
<text x="16.6" y="628" font-size="9.2" text-anchor="middle" fill="#1a1a1a" transform="rotate(-90 16.6 628)">% of Oaz1</text>
<text x="22.30" y="708.90" font-size="9.2" text-anchor="start" font-weight="normal" fill="#1a1a1a" >Day</text>
<text x="50.90" y="709.20" font-size="9.2" text-anchor="middle" font-weight="normal" fill="#1a1a1a" >6</text>
<text x="86.00" y="709.20" font-size="9.2" text-anchor="middle" font-weight="normal" fill="#1a1a1a" >8</text>
<text x="121.20" y="709.20" font-size="9.2" text-anchor="middle" font-weight="normal" fill="#1a1a1a" >11</text>
<text x="163.80" y="709.20" font-size="9.2" text-anchor="middle" font-weight="normal" fill="#1a1a1a" >6</text>
<text x="198.80" y="709.20" font-size="9.2" text-anchor="middle" font-weight="normal" fill="#1a1a1a" >8</text>
<text x="234.30" y="709.20" font-size="9.2" text-anchor="middle" font-weight="normal" fill="#1a1a1a" >11</text>
<text x="262.20" y="551.20" font-size="17" text-anchor="start" font-weight="bold" fill="#000" >E</text>
<text x="338.00" y="549.00" font-size="9.3" text-anchor="start" font-weight="normal" fill="#1a1a1a" >Human CD34<tspan font-size="5.5" dy="-3.5">+</tspan><tspan dy="3.5"> cells</tspan></text>
<line x1="311.50" y1="552.50" x2="440.60" y2="552.50" stroke="#111" stroke-width="1.3" />
<text x="341.10" y="565.50" font-size="9.3" text-anchor="middle" font-weight="normal" fill="#1a1a1a" >Serum free</text>
<line x1="311.70" y1="568.90" x2="370.40" y2="568.90" stroke="#111" stroke-width="1.3" />
<text x="412.40" y="566.00" font-size="9.3" text-anchor="middle" font-weight="normal" fill="#1a1a1a" >30% serum</text>
<line x1="382.50" y1="568.90" x2="440.60" y2="568.90" stroke="#111" stroke-width="1.3" />
<text x="484.00" y="549.30" font-size="9.3" text-anchor="middle" font-weight="normal" fill="#1a1a1a" >Murine</text>
<line x1="450.50" y1="552.20" x2="516.00" y2="552.20" stroke="#111" stroke-width="1.3" />
<text x="489.80" y="564.10" font-size="9.3" text-anchor="middle" font-weight="normal" fill="#1a1a1a" >Spleen</text>
<line x1="473.20" y1="567.20" x2="505.50" y2="567.20" stroke="#111" stroke-width="1.3" />
<text x="320.30" y="599.20" font-size="9.2" fill="#1a1a1a" transform="rotate(-90 320.30 599.20)">Day 8</text>
<text x="344.30" y="599.20" font-size="9.2" fill="#1a1a1a" transform="rotate(-90 344.30 599.20)">Day 11</text>
<text x="367.40" y="599.20" font-size="9.2" fill="#1a1a1a" transform="rotate(-90 367.40 599.20)">Day 14</text>
<text x="390.40" y="599.20" font-size="9.2" fill="#1a1a1a" transform="rotate(-90 390.40 599.20)">Day 8</text>
<text x="414.70" y="599.20" font-size="9.2" fill="#1a1a1a" transform="rotate(-90 414.70 599.20)">Day 11</text>
<text x="437.80" y="599.20" font-size="9.2" fill="#1a1a1a" transform="rotate(-90 437.80 599.20)">Day 14</text>
<text x="460.80" y="599.20" font-size="9.2" fill="#1a1a1a" transform="rotate(-90 460.80 599.20)">MEL</text>
<text x="480.40" y="599.20" font-size="9.2" fill="#1a1a1a" transform="rotate(-90 480.40 599.20)">Ter119<tspan font-size="5.5" dy="-3.6">+</tspan></text>
<text x="504.90" y="599.20" font-size="9.2" fill="#1a1a1a" transform="rotate(-90 504.90 599.20)">Ter119<tspan font-size="5.5" dy="-3.6">-</tspan></text>
<text x="305.40" y="633.30" font-size="9.2" text-anchor="end" font-weight="normal" fill="#1a1a1a" >TR4</text>
<text x="305.80" y="673.80" font-size="9.3" text-anchor="end" font-weight="normal" fill="#1a1a1a" >Coup-TFII</text>
<text x="305.80" y="702.00" font-size="9.3" text-anchor="end" font-weight="normal" fill="#1a1a1a" >β-actin</text>
<rect x="308.6" y="603.9" width="209" height="49" fill="#f3f3f3" stroke="#1a1a1a" stroke-width="1.5"/>
<rect x="308.6" y="657.6" width="209" height="25.8" fill="#fdfdfd" stroke="#1a1a1a" stroke-width="1.5"/>
<rect x="308.6" y="688.9" width="209" height="20.6" fill="#efefef" stroke="#1a1a1a" stroke-width="1.5"/>
<defs><linearGradient id="smear" x1="0" y1="0" x2="0" y2="1"><stop offset="0" stop-color="#000" stop-opacity="0"/><stop offset="1" stop-color="#000" stop-opacity="1"/></linearGradient><linearGradient id="smear2" x1="0" y1="0" x2="0" y2="1"><stop offset="0" stop-color="#000" stop-opacity="1"/><stop offset="1" stop-color="#000" stop-opacity="0"/></linearGradient></defs>
<g clip-path="url(#clipTR4)">
<rect x="312.7" y="606" width="15.5" height="45" fill="#000" opacity="0.025" filter="url(#bl2)"/>
<rect x="313.7" y="609" width="13.5" height="20.2" fill="url(#smear)" opacity="0.36" filter="url(#bl2)"/>
<rect x="313.7" y="631.2" width="13.5" height="11" fill="url(#smear2)" opacity="0.18" filter="url(#bl2)"/>
<g transform="rotate(2 320.4 629.2)">
<rect x="313.0" y="625.8" width="14.9" height="6.8" rx="3" fill="#000" opacity="0.44" filter="url(#bl2)"/>
<rect x="313.9" y="627.3" width="13.1" height="3.8" rx="1.9" fill="#000" opacity="0.62" filter="url(#bl1)"/>
</g>
<rect x="334.2" y="606" width="16.2" height="45" fill="#000" opacity="0.025" filter="url(#bl2)"/>
<rect x="335.2" y="609" width="14.2" height="20.3" fill="url(#smear)" opacity="0.3" filter="url(#bl2)"/>
<rect x="335.2" y="631.3" width="14.2" height="11" fill="url(#smear2)" opacity="0.15" filter="url(#bl2)"/>
<g transform="rotate(1 342.3 629.3)">
<rect x="334.5" y="625.9" width="15.6" height="6.8" rx="3" fill="#000" opacity="0.40" filter="url(#bl2)"/>
<rect x="335.4" y="627.4" width="13.8" height="3.8" rx="1.9" fill="#000" opacity="0.56" filter="url(#bl1)"/>
</g>
<rect x="355.8" y="606" width="18.2" height="45" fill="#000" opacity="0.025" filter="url(#bl2)"/>
<rect x="356.8" y="609" width="16.2" height="21.6" fill="url(#smear)" opacity="0.22" filter="url(#bl2)"/>
<rect x="356.8" y="632.6" width="16.2" height="11" fill="url(#smear2)" opacity="0.11" filter="url(#bl2)"/>
<g transform="rotate(0 364.9 630.6)">
<rect x="356.1" y="627.2" width="17.6" height="6.8" rx="3" fill="#000" opacity="0.31" filter="url(#bl2)"/>
<rect x="357.0" y="628.7" width="15.8" height="3.8" rx="1.9" fill="#000" opacity="0.43" filter="url(#bl1)"/>
</g>
<rect x="380.4" y="606" width="16.1" height="45" fill="#000" opacity="0.025" filter="url(#bl2)"/>
<rect x="381.4" y="609" width="14.1" height="21.6" fill="url(#smear)" opacity="0.12" filter="url(#bl2)"/>
<rect x="381.4" y="632.6" width="14.1" height="11" fill="url(#smear2)" opacity="0.06" filter="url(#bl2)"/>
<g transform="rotate(0 388.4 630.6)">
<rect x="380.7" y="627.2" width="15.5" height="6.8" rx="3" fill="#000" opacity="0.10" filter="url(#bl2)"/>
<rect x="381.6" y="628.7" width="13.7" height="3.8" rx="1.9" fill="#000" opacity="0.14" filter="url(#bl1)"/>
</g>
<rect x="403.3" y="606" width="15.4" height="45" fill="#000" opacity="0.025" filter="url(#bl2)"/>
<rect x="404.3" y="609" width="13.4" height="22.3" fill="url(#smear)" opacity="0.12" filter="url(#bl2)"/>
<rect x="404.3" y="633.3" width="13.4" height="11" fill="url(#smear2)" opacity="0.06" filter="url(#bl2)"/>
<g transform="rotate(0 411.0 631.3)">
<rect x="403.6" y="627.9" width="14.8" height="6.8" rx="3" fill="#000" opacity="0.08" filter="url(#bl2)"/>
<rect x="404.5" y="629.4" width="13.0" height="3.8" rx="1.9" fill="#000" opacity="0.11" filter="url(#bl1)"/>
</g>
<rect x="425.5" y="606" width="17.5" height="45" fill="#000" opacity="0.025" filter="url(#bl2)"/>
<rect x="426.5" y="609" width="15.5" height="24.6" fill="url(#smear)" opacity="0.1" filter="url(#bl2)"/>
<rect x="426.5" y="635.6" width="15.5" height="11" fill="url(#smear2)" opacity="0.05" filter="url(#bl2)"/>
<g transform="rotate(3 434.2 633.6)">
<rect x="425.8" y="630.2" width="16.9" height="6.8" rx="3" fill="#000" opacity="0.37" filter="url(#bl2)"/>
<rect x="426.7" y="631.7" width="15.1" height="3.8" rx="1.9" fill="#000" opacity="0.52" filter="url(#bl1)"/>
</g>
<rect x="447.6" y="606" width="18.2" height="45" fill="#000" opacity="0.025" filter="url(#bl2)"/>
<rect x="448.6" y="609" width="16.2" height="19.4" fill="url(#smear)" opacity="0.16" filter="url(#bl2)"/>
<rect x="448.6" y="630.4" width="16.2" height="11" fill="url(#smear2)" opacity="0.08" filter="url(#bl2)"/>
<g transform="rotate(-4 456.7 628.4)">
<rect x="447.9" y="625.0" width="17.6" height="6.8" rx="3" fill="#000" opacity="0.50" filter="url(#bl2)"/>
<rect x="448.8" y="626.5" width="15.8" height="3.8" rx="1.9" fill="#000" opacity="0.70" filter="url(#bl1)"/>
</g>
<rect x="471.5" y="606" width="18.0" height="45" fill="#000" opacity="0.025" filter="url(#bl2)"/>
<rect x="472.5" y="609" width="16.0" height="16.4" fill="url(#smear)" opacity="0.14" filter="url(#bl2)"/>
<rect x="472.5" y="627.4" width="16.0" height="11" fill="url(#smear2)" opacity="0.07" filter="url(#bl2)"/>
<g transform="rotate(-2 480.5 625.4)">
<rect x="471.8" y="622.0" width="17.4" height="6.8" rx="3" fill="#000" opacity="0.29" filter="url(#bl2)"/>
<rect x="472.7" y="623.5" width="15.6" height="3.8" rx="1.9" fill="#000" opacity="0.41" filter="url(#bl1)"/>
</g>
<rect x="495.0" y="606" width="17.0" height="45" fill="#000" opacity="0.025" filter="url(#bl2)"/>
<rect x="496.0" y="609" width="15.0" height="18.0" fill="url(#smear)" opacity="0.04" filter="url(#bl2)"/>
<rect x="496.0" y="629.0" width="15.0" height="11" fill="url(#smear2)" opacity="0.02" filter="url(#bl2)"/>
<g transform="rotate(0 503.5 627.0)">
<rect x="495.3" y="623.6" width="16.4" height="6.8" rx="3" fill="#000" opacity="0.02" filter="url(#bl2)"/>
<rect x="496.2" y="625.1" width="14.6" height="3.8" rx="1.9" fill="#000" opacity="0.03" filter="url(#bl1)"/>
</g>
<ellipse cx="387.3" cy="631" rx="1.6" ry="3.5" fill="#000" opacity="0.35" filter="url(#bl1)"/>
</g>
<g clip-path="url(#clipCoup)">
<path d="M497.2,660 L513.6,660 L513.8,681 L499,681.5 C497.5,676 496.6,668 497.2,660 Z" fill="#050505" filter="url(#bl1)"/>
<rect x="511.5" y="656" width="7" height="5" fill="#000"/>
<ellipse cx="505" cy="660.5" rx="6.5" ry="2.6" fill="#e8e8e8" filter="url(#bl1)"/>
<ellipse cx="505.5" cy="672" rx="5" ry="1" fill="#555" opacity="0.6" filter="url(#bl1)"/>
<rect x="499" y="676.5" width="13" height="5" fill="#777" opacity="0.55" filter="url(#bl1)"/>
</g>
<g clip-path="url(#clipAct)">
<path d="M315.6,691.2 Q325.1,694.1 334.6,694.4 L334.6,698.4 Q325.1,698.1 317.1,694.4 Z" fill="#000" opacity="1.0" filter="url(#bl1)"/>
<path d="M337.4,695.3 Q346.5,696.6 355.6,696.6 L355.6,700.2 Q346.5,700.2 338.9,698.2 Z" fill="#000" opacity="1.0" filter="url(#bl1)"/>
<path d="M360.0,696.9 Q369.2,697.8 378.5,697.8 L378.5,701.2 Q369.2,701.2 361.5,699.6 Z" fill="#000" opacity="0.97" filter="url(#bl1)"/>
<path d="M383.3,699.2 Q391.4,699.8 399.4,699.9 L399.4,702.5 Q391.4,702.4 384.8,701.3 Z" fill="#000" opacity="0.72" filter="url(#bl1)"/>
<path d="M406.3,699.6 Q414.5,700.2 422.6,700.3 L422.6,702.9 Q414.5,702.9 407.8,701.7 Z" fill="#000" opacity="0.72" filter="url(#bl1)"/>
<path d="M428.8,700.9 Q437.0,701.5 445.2,701.5 L445.2,704.1 Q437.0,704.1 430.3,703.0 Z" fill="#000" opacity="0.75" filter="url(#bl1)"/>
<path d="M451.0,700.2 Q460.2,700.9 469.4,700.6 L469.4,704.4 Q460.2,704.7 452.5,703.2 Z" fill="#000" opacity="1.0" filter="url(#bl1)"/>
<path d="M474.3,699.0 Q483.0,699.4 491.6,699.0 L491.6,702.2 Q483.0,702.6 475.8,701.6 Z" fill="#000" opacity="0.97" filter="url(#bl1)"/>
<path d="M497.6,697.9 Q506.3,697.8 515.0,697.1 L515.0,700.1 Q506.3,700.8 499.1,700.3 Z" fill="#000" opacity="0.9" filter="url(#bl1)"/>
</g>
<defs><clipPath id="clipTR4"><rect x="309.4" y="604.7" width="207.4" height="47.4"/></clipPath><clipPath id="clipCoup"><rect x="309.4" y="658.4" width="207.4" height="24.2"/></clipPath><clipPath id="clipAct"><rect x="309.4" y="689.7" width="207.4" height="19"/></clipPath></defs>
<rect x="308.6" y="603.9" width="209" height="49" fill="none" stroke="#1a1a1a" stroke-width="1.5"/>
<rect x="308.6" y="657.6" width="209" height="25.8" fill="none" stroke="#1a1a1a" stroke-width="1.5"/>
<rect x="308.6" y="688.9" width="209" height="20.6" fill="none" stroke="#1a1a1a" stroke-width="1.5"/>
</svg>
</body></html>
